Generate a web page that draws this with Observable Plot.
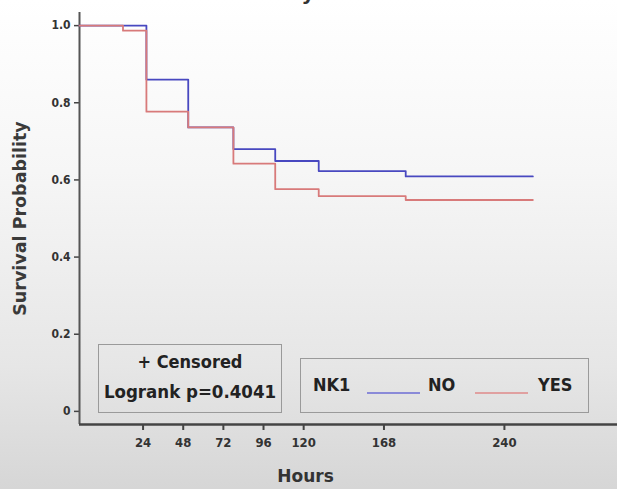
<!DOCTYPE html>
<html>
<head>
<meta charset="utf-8">
<script src="https://cdn.jsdelivr.net/npm/d3@7"></script>
<script src="https://cdn.jsdelivr.net/npm/@observablehq/plot@0.6"></script>
<style>
  html, body { margin: 0; padding: 0; }
  body { width: 617px; height: 489px; overflow: hidden; position: relative;
         background: linear-gradient(180deg, #ffffff 0%, #f6f6f6 35%, #e6e6e6 75%, #d6d6d6 100%);
         font-family: "DejaVu Sans Condensed", "DejaVu Sans", sans-serif; }
  #title { position: absolute; top: -19px; left: 0; width: 564px; text-align: center;
           font: bold 20px "DejaVu Sans", sans-serif; color: #333; }
  #chart { position: absolute; left: 0; top: 0; }
  .box { position: absolute; border: 1.5px solid #9a9a9a; background: transparent; box-sizing: border-box; color: #222; }
  #box1 { left: 98px; top: 344px; width: 184px; height: 69px; text-align: center; }
  #box1 .l1 { font: bold 18px "DejaVu Sans Condensed", "DejaVu Sans", sans-serif; position: absolute; left: 0; right: 0; top: 6px; }
  #box1 .l2 { font: bold 18.5px "DejaVu Sans Condensed", "DejaVu Sans", sans-serif; position: absolute; left: 0; right: 0; top: 36px; }
  #box2 { left: 300px; top: 358px; width: 289px; height: 55px; }
  .lg { position: absolute; font: bold 18px "DejaVu Sans Condensed", "DejaVu Sans", sans-serif; top: 15px; }
  .sw { position: absolute; height: 2px; top: 33px; width: 53px; }
</style>
</head>
<body>
<div id="title">Nausea Cycle 1</div>
<div id="chart"></div>
<div class="box" id="box1"><div class="l1">+ Censored</div><div class="l2">Logrank p=0.4041</div></div>
<div class="box" id="box2">
  <span class="lg" style="left:12px">NK1</span>
  <span class="sw" style="left:66px;background:#8a8ad8"></span>
  <span class="lg" style="left:127px">NO</span>
  <span class="sw" style="left:174px;background:#e0a0a0"></span>
  <span class="lg" style="left:237px">YES</span>
</div>
<script>
// Data (hours, survival probability)
const groups = ["NO", "YES"];
const colors = ["#4848c0", "#d87a7a"];
const noTimes  = [-14, 26, 51, 78, 103, 129, 181, 257];
const noSurv   = [1.0, 0.86, 0.736, 0.68, 0.649, 0.623, 0.609, 0.609];
const yesTimes = [-14, 12, 26, 51, 78, 103, 129, 181, 257];
const yesSurv  = [1.0, 0.987, 0.777, 0.736, 0.642, 0.576, 0.558, 0.548, 0.548];
const xTicks = [24, 48, 72, 96, 120, 168, 240];
const yTicks = [0, 0.2, 0.4, 0.6, 0.8, 1.0];
const xDomain = [-14, 307.6];
const yDomain = [-0.034, 1.034];

const rows = [
  ...noTimes.map((t, i) => ({group: "NO", t, s: noSurv[i]})),
  ...yesTimes.map((t, i) => ({group: "YES", t, s: yesSurv[i]}))
];

const tickFont = "'DejaVu Sans Condensed', 'DejaVu Sans', sans-serif";
const yFmt = d => d === 0 ? "0" : d.toFixed(1);

const chart = Plot.plot({
  width: 617, height: 489,
  marginLeft: 79, marginRight: 0, marginTop: 12, marginBottom: 65,
  style: {background: "transparent", fontFamily: tickFont, color: "#333"},
  x: {domain: xDomain},
  y: {domain: yDomain},
  color: {domain: groups, range: colors},
  marks: [
    Plot.axisX({ticks: xTicks, tickSize: 6, tickPadding: 7, stroke: "#444", strokeWidth: 2, fontSize: 13, fontWeight: "bold", fontFamily: tickFont, label: null}),
    Plot.axisY({ticks: yTicks, tickSize: 5, tickPadding: 4, stroke: "#444", strokeWidth: 1.5, fontSize: 12, fontWeight: "bold", fontFamily: tickFont, tickFormat: yFmt, label: null}),
    Plot.text(["Hours"], {frameAnchor: "bottom", dx: -43, dy: 57, fontSize: 17, fontWeight: "bold", fill: "#333", fontFamily: "'DejaVu Sans', sans-serif"}),
    Plot.text(["Survival Probability"], {frameAnchor: "left", textAnchor: "middle", dx: -59, rotate: -90, fontSize: 17.5, fontWeight: "bold", fill: "#3a3a3a", fontFamily: "'DejaVu Sans', sans-serif"}),
    Plot.ruleX([xDomain[0]], {stroke: "#555", strokeWidth: 2}),
    Plot.ruleY([yDomain[0]], {stroke: "#444", strokeWidth: 2.5}),
    Plot.line(rows, {x: "t", y: "s", z: "group", stroke: "group", curve: "step-after", strokeWidth: 1.8})
  ]
});
document.getElementById("chart").appendChild(chart);
</script>
</body>
</html>
